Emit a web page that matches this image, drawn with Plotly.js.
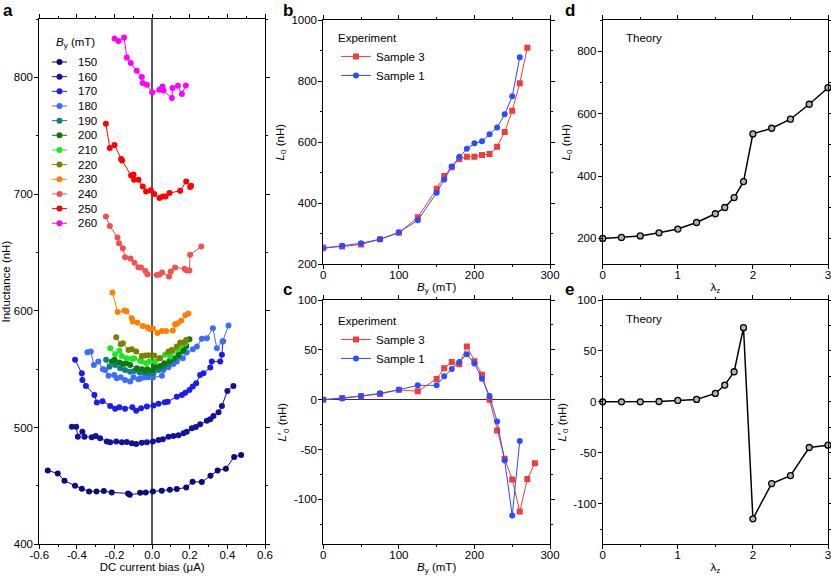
<!DOCTYPE html>
<html><head><meta charset="utf-8">
<script src="https://cdn.plot.ly/plotly-3.0.1.min.js"></script>
<style>html,body{margin:0;padding:0;background:#fff;overflow:hidden}#chart{width:831px;height:576px;display:block}</style>
</head><body><div id="chart"></div>
<script>
// ---------- Panel a : inductance vs DC bias, one curve per field B_y ----------
const fieldLabels = ['150','160','170','180','190','200','210','220','230','240','250','260'];
const fieldColors = ['#0b0b7e','#12129c','#1c1cf0','#3f6cff','#0a8282','#0b7a0b','#1ee61e','#7f7f00','#ff8000','#f55050','#ff0000','#ff00ff'];

const bias150 = [-0.555,-0.502,-0.466,-0.41,-0.374,-0.335,-0.296,-0.257,-0.215,-0.128,-0.119,-0.064,-0.034,0.004,0.051,0.094,0.131,0.181,0.215,0.264,0.310,0.348,0.392,0.436,0.473];
const ind150  = [463.3,460.7,454.4,450.1,447.6,445.3,445.3,445.6,444.4,443.6,442.4,444.1,444.4,445.3,445.8,446.7,447.3,448.7,453.6,453.3,458.7,463.3,464.8,474.8,476.5];

const bias160 = [-0.427,-0.404,-0.395,-0.371,-0.36,-0.321,-0.3,-0.277,-0.241,-0.223,-0.191,-0.161,-0.135,-0.108,-0.085,-0.055,-0.028,0.004,0.034,0.057,0.087,0.113,0.14,0.167,0.184,0.211,0.232,0.255,0.291,0.309,0.326,0.353,0.371,0.4,0.432];
const ind160  = [500.8,500.8,492.2,496.5,492.2,491.7,492.8,490.9,488,487.4,488,487.4,487.7,486.6,486,487.1,487.4,488,489.4,490,492.2,492.8,493.4,495.1,496.5,499.4,500.5,502.9,505.9,507.1,510,513.1,518.5,531.4,535.7];

const bias170 = [-0.41,-0.374,-0.371,-0.352,-0.307,-0.294,-0.264,-0.223,-0.197,-0.174,-0.144,-0.105,-0.085,-0.059,-0.028,0.007,0.034,0.067,0.083,0.131,0.158,0.176,0.198,0.216,0.234,0.255,0.273,0.309,0.317,0.362,0.371,0.376];
const ind170  = [558,546.6,540.8,535.7,528,521.4,522.6,518.5,516.2,517.4,516.2,517.4,514.5,516.6,518,518.8,520.3,521.7,522.2,526.5,528,529.9,532.2,535.1,538,545.1,546.6,551.4,556.5,556.5,562.3,574];

const bias180 = [-0.344,-0.326,-0.31,-0.286,-0.262,-0.25,-0.232,-0.202,-0.188,-0.167,-0.144,-0.117,-0.099,-0.073,-0.059,-0.037,-0.02,0.004,0.052,0.06,0.087,0.113,0.131,0.163,0.184,0.216,0.238,0.264,0.291,0.323,0.344,0.374,0.406];
const ind180  = [564.6,565.1,553.7,556.5,550,549.4,544.3,545.1,542.3,543.1,540.8,539.4,543.1,541.4,542.3,543.1,543.1,542.8,544.3,549.4,551.7,554.5,556.5,559.4,564.2,567.1,569.4,576,576.6,585,568,573.7,587.4];

const bias190 = [-0.245,-0.227,-0.197,-0.17,-0.144,-0.117,-0.096,-0.067,-0.046,-0.02,0.007,0.034,0.06,0.087,0.113,0.14,0.163,0.181];
const ind190  = [558,552.2,553.7,550.8,549.4,547.9,548.5,547.1,547.1,546.6,546.6,549.4,552.2,554.5,558,560.8,565.1,569.4];

const bias200 = [-0.214,-0.2,-0.174,-0.153,-0.138,-0.117,-0.081,-0.055,-0.037,-0.025,0.004,0.016,0.043,0.064,0.092,0.113,0.14,0.167,0.181,0.198];
const ind200  = [556.5,558,555.7,554.5,555.1,553.7,550.8,550,548.8,550,549.4,552.2,552.8,555.1,557.1,559.4,562.3,566.5,570,575.7];

const bias210 = [-0.223,-0.197,-0.174,-0.161,-0.135,-0.108,-0.096,-0.064,-0.055,-0.032,-0.014,0.016,0.043,0.069,0.096,0.11,0.135,0.158,0.176];
const ind210  = [568,562.9,565.7,561.4,559.4,558.8,559.4,557.4,556.5,555.1,556.5,556.5,559.4,562.3,560.8,565.1,567.1,570.8,572.3];

const bias220 = [-0.191,-0.167,-0.156,-0.126,-0.108,-0.085,-0.055,-0.037,-0.02,0.011,0.039,0.087,0.105,0.131,0.149,0.167,0.181];
const ind220  = [577.4,571.4,572.3,566.5,567.1,565.1,561.4,561.7,562,561.7,559.4,565.1,566.5,569.4,572.8,572.8,575.1];

const bias230 = [-0.211,-0.183,-0.147,-0.137,-0.108,-0.103,-0.078,-0.05,-0.025,-0.014,0.004,0.028,0.052,0.074,0.11,0.122,0.135,0.154,0.176,0.193];
const ind230  = [615.7,598.9,600.2,599.7,593.7,590.8,589.7,587.1,586,584.5,584.8,581.1,582.8,582.8,583.1,588.6,589.4,591.4,596.3,597.7];

const bias240 = [-0.246,-0.225,-0.184,-0.176,-0.156,-0.144,-0.115,-0.094,-0.073,-0.059,-0.036,-0.025,0.025,0.039,0.053,0.09,0.099,0.122,0.172,0.184,0.198,0.202,0.261];
const ind240  = [680.8,672.6,662.8,658,653.7,646,644.8,641.1,637.4,637.1,634.2,631.4,630.6,631.1,632.8,629.4,633.7,637.1,636,634.5,634.5,648,655.1];

const bias250 = [-0.246,-0.225,-0.2,-0.165,-0.16,-0.112,-0.099,-0.096,-0.073,-0.05,-0.032,-0.007,0.011,0.039,0.057,0.071,0.092,0.149,0.181,0.202,0.207];
const ind250  = [760.2,739.4,742,730,728.8,715.9,716.8,712.2,712.2,706.5,702.2,703.4,700,696.6,697.9,697.9,700.9,702.8,710.8,706,707.1];

const bias260 = [-0.2,-0.179,-0.149,-0.135,-0.114,-0.082,-0.055,-0.05,-0.028,0,0.039,0.055,0.06,0.105,0.108,0.137,0.158,0.179];
const ind260  = [833.4,831.1,834.2,817.1,812.3,805.7,800.3,795.1,793.7,787.1,789.4,792.2,788.8,782.3,790.8,792.8,785.7,793.1];

const biasSeries = [bias150,bias160,bias170,bias180,bias190,bias200,bias210,bias220,bias230,bias240,bias250,bias260];
const indSeries  = [ind150,ind160,ind170,ind180,ind190,ind200,ind210,ind220,ind230,ind240,ind250,ind260];

// ---------- Panel b : L0 vs By (experiment) ----------
const byS3 = [0,25,50,75,100,125,150,160,170,180,190,200,210,220,230,240,250,260,270];
const L0S3 = [255,258,265,282,303,354,447,489,518,545,552,552,558,561,585,633,703,793,909];
const byS1 = [0,25,50,75,100,125,150,160,170,180,190,200,210,220,230,240,250,260];
const L0S1 = [252,261,269,282,305,344,434,478,520,552,578,596,603,626,648,691,750,878];

// ---------- Panel c : L'0 vs By (experiment) ----------
const byC3 = [0,25,50,75,100,125,150,160,170,180,190,200,210,220,230,240,250,260,270,280];
const dLS3 = [0,1.7,3.4,5.7,10,8.4,20.8,31.5,37.9,35.5,53.3,38.5,25.1,0,-30.8,-59.3,-80,-112.2,-79.4,-63.7];
const byC1 = [0,25,50,75,100,125,150,160,170,180,190,200,210,220,230,240,250,260];
const dLS1 = [0,1.3,3.7,6.4,10,14.4,14.4,23.5,30.8,37.9,45.6,36.2,21.1,3.7,-21.8,-61,-116.2,-41.5];

// ---------- Panels d, e : theory ----------
const lambdaZ = [0,0.25,0.5,0.75,1,1.25,1.5,1.625,1.75,1.875,2,2.25,2.5,2.75,3];
const L0theory = [200,203,208,218,230,251,279,299,331,382,535,553,582,630,683];
const dLtheory = [0,0,0,0.3,1.3,2.3,8.2,16.4,29.5,72.8,-115,-80.3,-72.5,-44.9,-42.6];

// ---------- tick labels ----------
const biasTickVals = [-0.6,-0.4,-0.2,0,0.2,0.4,0.6];
const biasTickText = ['-0.6','-0.4','-0.2','0.0','0.2','0.4','0.6'];
const dLTickVals = [-100,-50,0,50,100];
const dLTickText = ['-100','-50','0','50','100'];

// ---------- layout helpers ----------
const W = 831, H = 576;
const px = p => p / W;
const py = p => 1 - p / H;
const FONT = 'Liberation Sans, Arial, sans-serif';
const FS = 11.5;

function axis(extra, isX) {
  return Object.assign({
    showline: true, linecolor: '#000', linewidth: 1, mirror: 'ticks',
    ticks: 'outside', ticklen: 4, tickwidth: 1, tickcolor: '#000',
    showgrid: false, zeroline: false, ticklabeloverflow: 'allow',
    ticklabelstandoff: isX ? -4 : -1,
    tickfont: {family: FONT, size: FS, color: '#000'}
  }, extra);
}
function ttl(text, standoff) {
  return {text: text, font: {family: FONT, size: FS, color: '#000'}, standoff: standoff};
}
function minor(dt) {
  return {dtick: dt, tick0: 0, ticks: 'outside', ticklen: 2, tickcolor: '#000'};
}

const traces = [];
biasSeries.forEach((xs, i) => {
  traces.push({
    x: xs, y: indSeries[i], xaxis: 'x', yaxis: 'y', type: 'scatter', mode: 'lines+markers',
    name: fieldLabels[i], showlegend: false,
    line: {color: fieldColors[i], width: 1}, marker: {color: fieldColors[i], size: 6}
  });
});
const red = '#f03c3c', blue = '#2d4cff';
traces.push({x: byS3, y: L0S3, xaxis: 'x2', yaxis: 'y2', mode: 'lines+markers', name: 'Sample 3', legend: 'legend',
  line: {color: red, width: 1}, marker: {color: red, symbol: 'square', size: 6}});
traces.push({x: byS1, y: L0S1, xaxis: 'x2', yaxis: 'y2', mode: 'lines+markers', name: 'Sample 1', legend: 'legend',
  line: {color: blue, width: 1}, marker: {color: blue, symbol: 'circle', size: 6}});
traces.push({x: byC3, y: dLS3, xaxis: 'x3', yaxis: 'y3', mode: 'lines+markers', name: 'Sample 3', legend: 'legend2',
  line: {color: red, width: 1}, marker: {color: red, symbol: 'square', size: 6}});
traces.push({x: byC1, y: dLS1, xaxis: 'x3', yaxis: 'y3', mode: 'lines+markers', name: 'Sample 1', legend: 'legend2',
  line: {color: blue, width: 1}, marker: {color: blue, symbol: 'circle', size: 6}});
const thMarker = {color: '#b4b4b4', size: 6, line: {color: '#000', width: 1.3}};
traces.push({x: lambdaZ, y: L0theory, xaxis: 'x4', yaxis: 'y4', mode: 'lines+markers', showlegend: false,
  line: {color: '#000', width: 1.5}, marker: thMarker, cliponaxis: false});
traces.push({x: lambdaZ, y: dLtheory, xaxis: 'x5', yaxis: 'y5', mode: 'lines+markers', showlegend: false,
  line: {color: '#000', width: 1.5}, marker: thMarker, cliponaxis: false});

// domains
const domA = [px(39.3), px(265)], domB = [px(323.3), px(550)], domD = [px(602.7), px(828)];
const domTop = [py(264.3), py(20)], domBot = [py(544.3), py(300)], domFull = [py(544.3), py(19)];

const annotations = [];
const shapes = [];
function label(t, x, y, opts) {
  annotations.push(Object.assign({text: t, xref: 'paper', yref: 'paper', x: px(x), y: py(y),
    xanchor: 'left', yanchor: 'middle', showarrow: false,
    font: {family: FONT, size: FS, color: '#000'}}, opts || {}));
}
// panel letters
[['a', 1, 10], ['b', 281, 10], ['c', 281, 289], ['d', 563, 10], ['e', 563, 289]].forEach(l =>
  label('<b>' + l[0] + '</b>', l[1], l[2], {font: {family: FONT, size: 17, color: '#000'}}));
label('Theory', 624, 38);
label('Theory', 624, 319);

// legend of panel a (compact, drawn from fieldLabels/fieldColors)
label('<i>B</i><sub>y</sub> (mT)', 54, 43);
fieldLabels.forEach((t, i) => {
  const yy = 62 + i * 14.66;
  shapes.push({type: 'line', xref: 'paper', yref: 'paper', x0: px(52), x1: px(67), y0: py(yy), y1: py(yy),
    line: {color: fieldColors[i], width: 1}});
  shapes.push({type: 'circle', xref: 'paper', yref: 'paper', xsizemode: 'pixel', ysizemode: 'pixel',
    xanchor: px(59.5), yanchor: py(yy), x0: -3, x1: 3, y0: -3, y1: 3,
    fillcolor: fieldColors[i], line: {color: fieldColors[i], width: 0}});
  label(t, 76, yy);
});

const legendCommon = {
  xanchor: 'left', yanchor: 'top', bgcolor: 'rgba(0,0,0,0)', borderwidth: 0,
  font: {family: FONT, size: FS, color: '#000'}, tracegroupgap: 0,
  title: {text: 'Experiment', font: {family: FONT, size: FS, color: '#000'}}
};

const layout = {
  width: W, height: H, margin: {l: 0, r: 0, t: 0, b: 0},
  paper_bgcolor: '#fff', plot_bgcolor: '#fff',
  font: {family: FONT, size: FS, color: '#000'},
  showlegend: true,
  legend: Object.assign({x: px(336), y: py(27)}, legendCommon),
  legend2: Object.assign({x: px(336), y: py(310)}, legendCommon),
  xaxis: axis({domain: domA, anchor: 'y', range: [-0.6, 0.6], tickmode: 'array', tickvals: biasTickVals, ticktext: biasTickText,
    minor: minor(0.1), zeroline: true, zerolinecolor: '#555', zerolinewidth: 1.6,
    title: ttl('DC current bias (μA)', 2)}, true),
  yaxis: axis({domain: domFull, anchor: 'x', range: [400, 850], dtick: 100, tick0: 0,
    minor: minor(50), title: ttl('Inductance (nH)', 4)}),
  xaxis2: axis({domain: domB, anchor: 'y2', range: [0, 300], dtick: 100,
    minor: minor(50), title: ttl('<i>B</i><sub>y</sub> (mT)', 2)}, true),
  yaxis2: axis({domain: domTop, anchor: 'x2', range: [200, 1000], dtick: 200,
    minor: minor(100), title: ttl('<i>L</i><sub>0</sub> (nH)', 4)}),
  xaxis3: axis({domain: domB, anchor: 'y3', range: [0, 300], dtick: 100,
    minor: minor(50), title: ttl('<i>B</i><sub>y</sub> (mT)', 2)}, true),
  yaxis3: axis({domain: domBot, anchor: 'x3', range: [-145, 100], tickmode: 'array', tickvals: dLTickVals, ticktext: dLTickText,
    minor: minor(25), zeroline: true, zerolinecolor: '#333', zerolinewidth: 1.2,
    title: ttl('<i>L</i>\u2032<sub>0</sub> (nH)', 4)}),
  xaxis4: axis({domain: domD, anchor: 'y4', range: [0, 3], dtick: 1,
    minor: minor(0.5), title: ttl('λ<sub>z</sub>', 2)}, true),
  yaxis4: axis({domain: domTop, anchor: 'x4', range: [117, 900], dtick: 200, tick0: 0,
    minor: minor(100), title: ttl('<i>L</i><sub>0</sub> (nH)', 4)}),
  xaxis5: axis({domain: domD, anchor: 'y5', range: [0, 3], dtick: 1,
    minor: minor(0.5), title: ttl('λ<sub>z</sub>', 2)}, true),
  yaxis5: axis({domain: domBot, anchor: 'x5', range: [-140, 100], tickmode: 'array', tickvals: dLTickVals, ticktext: dLTickText,
    minor: minor(25), title: ttl('<i>L</i>\u2032<sub>0</sub> (nH)', 4)}),
  annotations: annotations,
  shapes: shapes
};

Plotly.newPlot('chart', traces, layout, {displayModeBar: false, staticPlot: true});
</script>
</body></html>
